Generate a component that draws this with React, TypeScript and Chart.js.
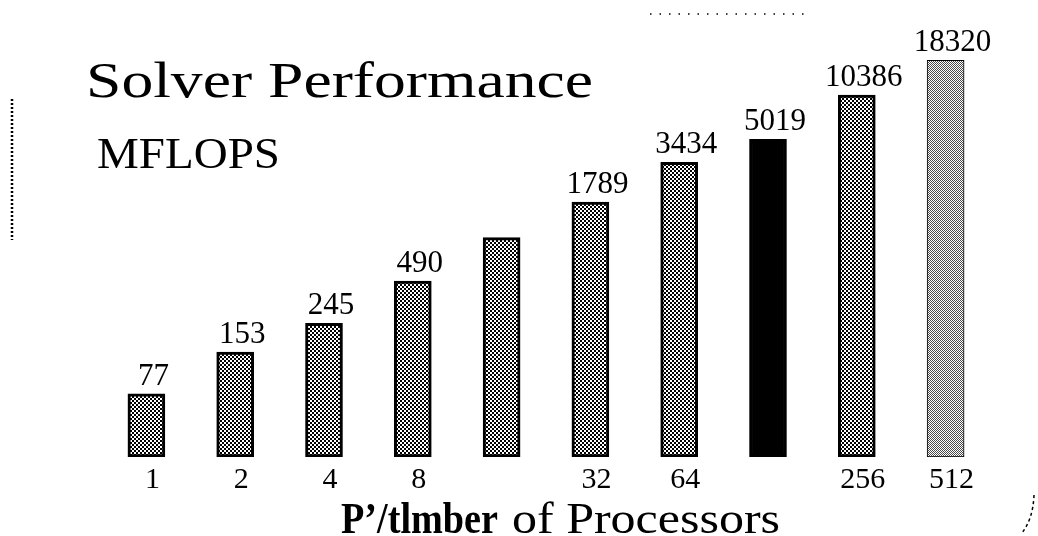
import React, { useEffect, useRef } from "react";
import { Chart, registerables } from "chart.js";

Chart.register(...registerables);

const processors = ["1", "2", "4", "8", "16", "32", "64", "128", "256", "512"];
const tickLabels = ["1", "2", "4", "8", "", "32", "64", "", "256", "512"];
const mflops = [77, 153, 245, 490, 1000, 1789, 3434, 5019, 10386, 18320];
const valueLabels = ["77", "153", "245", "490", "", "1789", "3434", "5019", "10386", "18320"];
const barKinds = ["dither", "dither", "dither", "dither", "dither", "dither", "dither", "solid", "dither", "light"];

const titleText = "Solver Performance";
const unitText = "MFLOPS";
const axisBold = "P\u2019/tlmber";
const axisRegular = "of Processors";

const SERIF = "'Liberation Serif', 'Times New Roman', 'DejaVu Serif', serif";

function makePattern(kind: string): CanvasPattern | string {
  if (kind === "solid") return "#000000";
  const c = document.createElement("canvas");
  const ctx = c.getContext("2d")!;
  if (kind === "light") {
    c.width = 2;
    c.height = 2;
    ctx.fillStyle = "#ffffff";
    ctx.fillRect(0, 0, 2, 2);
    ctx.fillStyle = "#4a4a4a";
    ctx.fillRect(0, 0, 1, 1);
    ctx.fillRect(1, 1, 1, 1);
  } else {
    c.width = 4;
    c.height = 4;
    ctx.fillStyle = "#ffffff";
    ctx.fillRect(0, 0, 4, 4);
    ctx.fillStyle = "#000000";
    ctx.fillRect(0, 0, 2, 2);
    ctx.fillRect(2, 2, 2, 2);
  }
  return ctx.createPattern(c, "repeat")!;
}

function fitText(
  ctx: CanvasRenderingContext2D,
  text: string,
  left: number,
  baseline: number,
  font: string,
  targetWidth: number
) {
  ctx.save();
  ctx.font = font;
  ctx.textAlign = "left";
  ctx.textBaseline = "alphabetic";
  const w = ctx.measureText(text).width;
  const sx = targetWidth / w;
  ctx.translate(left, baseline);
  ctx.scale(sx, 1);
  ctx.fillText(text, 0, 0);
  ctx.restore();
}

const decorPlugin = {
  id: "decor",
  afterDraw(chart: any) {
    const ctx: CanvasRenderingContext2D = chart.ctx;
    const meta = chart.getDatasetMeta(0);
    const xScale = chart.scales.x;
    ctx.save();
    ctx.fillStyle = "#000000";

    // value labels above bars
    ctx.font = `31px ${SERIF}`;
    ctx.textAlign = "center";
    ctx.textBaseline = "alphabetic";
    meta.data.forEach((bar: any, i: number) => {
      const lbl = valueLabels[i];
      if (lbl) ctx.fillText(lbl, bar.x + 7, bar.y - 9);
    });

    // category tick labels
    ctx.font = `30px ${SERIF}`;
    tickLabels.forEach((t, i) => {
      if (!t) return;
      const x = xScale.getPixelForValue(i);
      ctx.fillText(t, x + 6, chart.chartArea.bottom + 31);
    });

    // titles
    fitText(ctx, titleText, 86, 97, `51px ${SERIF}`, 507);
    fitText(ctx, unitText, 97, 168, `45px ${SERIF}`, 183);
    fitText(ctx, axisBold, 341, 533, `bold 44px ${SERIF}`, 157);
    fitText(ctx, axisRegular, 512, 533, `44px ${SERIF}`, 268);

    // scan artefacts: dotted rules and a small mark
    ctx.strokeStyle = "#000000";
    ctx.lineWidth = 2.5;
    ctx.setLineDash([2, 2]);
    ctx.beginPath();
    ctx.moveTo(12, 99);
    ctx.lineTo(12, 240);
    ctx.stroke();
    ctx.lineWidth = 1.5;
    ctx.setLineDash([1.5, 8]);
    ctx.beginPath();
    ctx.moveTo(650, 14);
    ctx.lineTo(810, 14);
    ctx.stroke();
    ctx.lineWidth = 1.5;
    ctx.setLineDash([3, 3]);
    ctx.beginPath();
    ctx.moveTo(1034, 495);
    ctx.quadraticCurveTo(1033, 520, 1021, 534);
    ctx.stroke();
    ctx.restore();
  },
};

export default function App() {
  const canvasRef = useRef<HTMLCanvasElement | null>(null);

  useEffect(() => {
    document.body.style.margin = "0";
    const canvas = canvasRef.current!;
    const chart = new Chart(canvas, {
      type: "bar",
      data: {
        labels: processors,
        datasets: [
          {
            label: "MFLOPS",
            data: mflops,
            backgroundColor: barKinds.map((k) => makePattern(k)) as any,
            borderColor: "#000000",
            borderWidth: barKinds.map((k) => (k === "light" ? 1 : 3)),
            borderSkipped: false,
            barThickness: 37,
          },
        ],
      },
      options: {
        responsive: false,
        animation: false,
        devicePixelRatio: 1,
        layout: { padding: { left: 102, right: 48, top: 20, bottom: 79 } },
        plugins: {
          legend: { display: false },
          tooltip: { enabled: false },
          title: { display: false },
        },
        scales: {
          x: { display: false, type: "category" },
          y: { display: false, type: "logarithmic", min: 27.3, max: 35560 },
        },
      },
      plugins: [decorPlugin],
    });
    return () => chart.destroy();
  }, []);

  return (
    <div style={{ position: "absolute", left: 0, top: 0, width: 1038, height: 536, background: "#ffffff" }}>
      <canvas ref={canvasRef} width={1038} height={536} />
    </div>
  );
}
